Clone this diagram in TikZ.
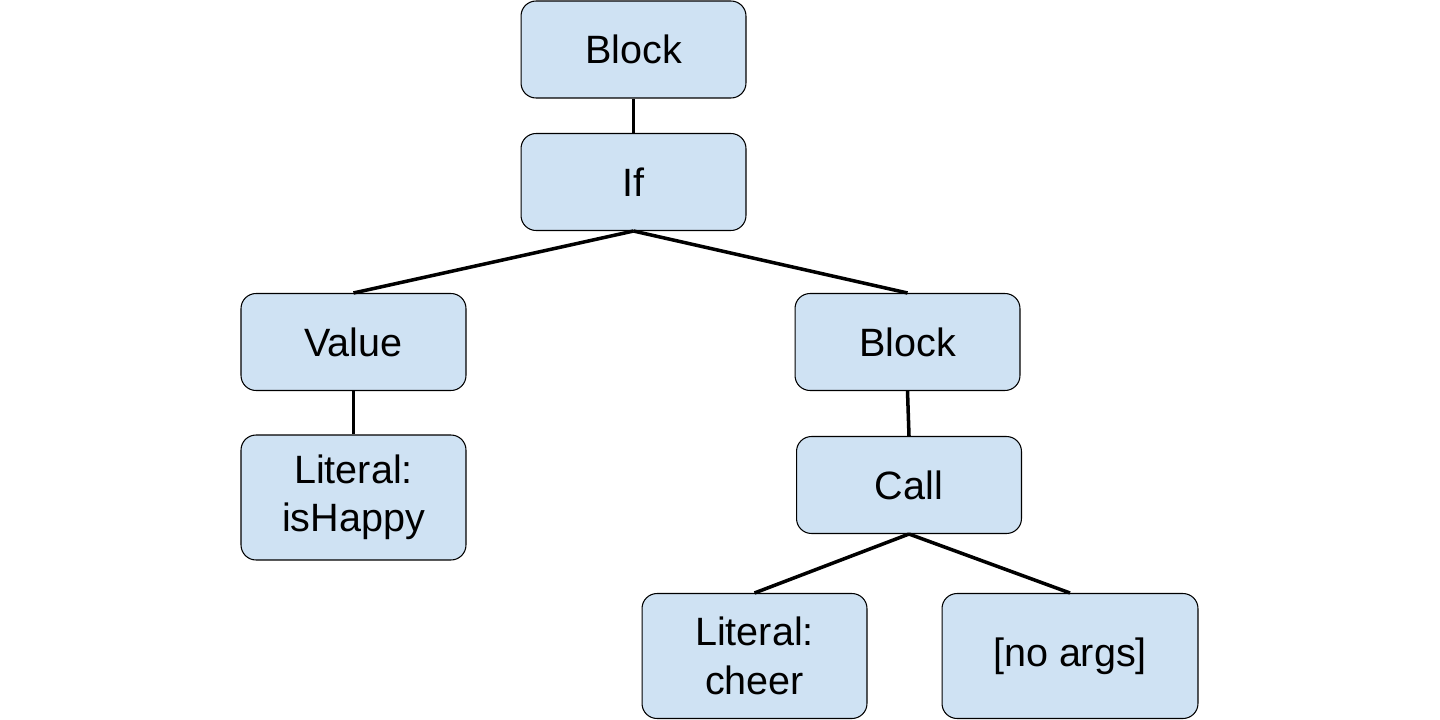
\documentclass[tikz,border=0pt]{standalone}
\usepackage{fontspec}
\setmainfont{Liberation Sans}
\usetikzlibrary{positioning}

\definecolor{boxfill}{HTML}{CFE2F3}

\tikzset{
  astnode/.style={draw=black, line width=0.6pt, fill=boxfill, rounded corners=0.3cm,
    minimum width=4.5cm, minimum height=1.94cm, align=center,
    font=\fontsize{22.5}{27.5}\selectfont},
  astedge/.style={line width=2pt}
}

\begin{document}
\begin{tikzpicture}[x=0.02cm, y=-0.02cm]
  \useasboundingbox (0,0) rectangle (1440,720);

  % nodes
  \node[astnode] (block) at (633.5,49.5) {Block};
  \node[astnode] (if) at (633.5,182) {If};
  \node[astnode] (value) at (353.5,342) {Value};
  \node[astnode] (thenblock) at (907.5,342) {Block};
  \node[astnode, minimum height=2.5cm] (lithappy) at (353.5,497.5) {Literal:\\isHappy};
  \node[astnode] (call) at (909,485) {Call};
  \node[astnode, minimum height=2.5cm] (litcheer) at (754.5,656) {Literal:\\cheer};
  \node[astnode, minimum width=5.12cm, minimum height=2.5cm] (noargs) at (1070,656) {[no args]};

  % edges
  \draw[astedge] (block.south) -- (if.north);
  \draw[astedge] (if.south) -- (value.north);
  \draw[astedge] (if.south) -- (thenblock.north);
  \draw[astedge] (value.south) -- (lithappy.north);
  \draw[astedge] (thenblock.south) -- (call.north);
  \draw[astedge] (call.south) -- (litcheer.north);
  \draw[astedge] (call.south) -- (noargs.north);
\end{tikzpicture}
\end{document}
